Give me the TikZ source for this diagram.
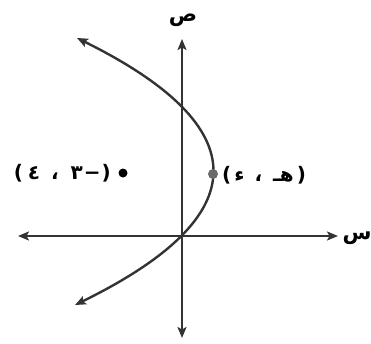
\documentclass[tikz,border=0pt]{standalone}
\usepackage{fontspec}
\usetikzlibrary{arrows.meta}
\TeXXeTstate=1
\newfontfamily\arabicfont[Script=Arabic]{DejaVu Sans}
\definecolor{ink}{HTML}{333333}
\definecolor{ptgray}{HTML}{6A6A6A}
\tikzset{
  axisline/.style={draw=ink, line width=2.4pt, {Stealth[length=11pt,width=9pt,inset=2.5pt]}-{Stealth[length=11pt,width=9pt,inset=2.5pt]}},
  curveline/.style={draw=ink, line width=2.4pt, {Stealth[length=11pt,width=9pt,inset=2.5pt]}-{Stealth[length=11pt,width=9pt,inset=2.5pt]}},
  blackdot/.style={circle, fill=black, inner sep=0pt, minimum size=9pt},
  graydot/.style={circle, fill=ptgray, inner sep=0pt, minimum size=10pt},
  lbl/.style={inner sep=0pt, font=\arabicfont\bfseries\fontsize{20}{24}\selectfont, text=black},
  axlbl/.style={inner sep=0pt, font=\arabicfont\bfseries\fontsize{21}{24}\selectfont, text=black}
}
\begin{document}
\begin{tikzpicture}[x=1pt,y=-1pt]
\useasboundingbox (0,0) rectangle (371,343);
\coordinate (xl) at (18,236);
\coordinate (xr) at (338,236);
\coordinate (yt) at (182,39);
\coordinate (yb) at (182,338);
\coordinate (O) at (182,236);
\coordinate (ct) at (77,38);
\coordinate (cb) at (75,305);
\draw[axisline] (xl) -- (xr);
\draw[axisline] (yb) -- (yt);
\draw[curveline] (ct) .. controls (257,127) and (257,216) .. (cb);
\node[graydot] (P) at (213,174) {};
\node[blackdot] (Q) at (123,173) {};
\node[lbl, anchor=west] (Plbl) at (222,175) {\beginR(\hspace{3pt}هـ\hspace{4pt} ، \hspace{3pt}ء\hspace{3pt})\endR};
\node[lbl, anchor=east] (Qlbl) at (111,173) {\beginR(\hspace{1pt}−\hspace{1pt}٣\hspace{5pt} ، \hspace{4pt}٤\hspace{5pt})\endR};
\node[axlbl] (ylbl) at (183,20) {\beginR ص\endR};
\node[axlbl] (xlbl) at (357,238) {\beginR س\endR};
\end{tikzpicture}
\end{document}
